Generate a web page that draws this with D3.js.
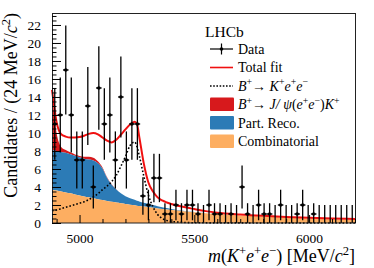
<!DOCTYPE html>
<html>
<head>
<meta charset="utf-8">
<script src="https://cdnjs.cloudflare.com/ajax/libs/d3/7.8.5/d3.min.js"></script>
<style>
    html, body { margin: 0; padding: 0; background: #fff; }
    .chart { width: 374px; height: 268px; }
    text { font-family: "Liberation Serif", "Times New Roman", serif; fill: #000; }
</style>
</head>
<body>
<div class="chart"></div>
<script>
// chart state lives here
let chart = {};

// histogram: bin centres (24 MeV bins, 4880-6200) and candidate counts
const binCentres = [4892, 4916, 4940, 4964, 4988, 5012, 5036, 5060, 5084, 5108,
    5132, 5156, 5180, 5204, 5228, 5252, 5276, 5300, 5324, 5348,
    5372, 5396, 5420, 5444, 5468, 5492, 5516, 5540, 5564, 5588,
    5612, 5636, 5660, 5684, 5708, 5732, 5756, 5780, 5804, 5828,
    5852, 5876, 5900, 5924, 5948, 5972, 5996, 6020, 6044, 6068,
    6092, 6116, 6140, 6164, 6188];
const counts = [11, 12, 17, 12, 7, 7, 13, 4, 15, 11,
    12, 7, 14, 7, 11, 11, 3, 2, 5, 5,
    1, 1, 2, 1, 2, 2, 1, 0, 2, 1,
    1, 0, 1, 0, 4, 1, 0, 2, 1, 1,
    0, 2, 0, 0, 1, 2, 0, 1, 0, 0,
    0, 0, 0, 0, 0];

// fit components, sampled at fitMass
const fitMass = [4880, 4890, 4900, 4910, 4920, 4940, 4960, 4980, 5000, 5020,
    5040, 5060, 5080, 5100, 5120, 5140, 5160, 5180, 5200, 5220,
    5240, 5250, 5260, 5280, 5300, 5320, 5340, 5360, 5380, 5400,
    5450, 5500, 5550, 5600, 5700, 5800, 5900, 6000, 6100, 6200];
const combinatorial = [3.7, 3.65, 3.6, 3.55, 3.5, 3.4, 3.3, 3.17, 3.05, 2.95,
    2.85, 2.75, 2.65, 2.55, 2.45, 2.36, 2.28, 2.2, 2.12, 2.04,
    1.97, 1.93, 1.9, 1.83, 1.76, 1.69, 1.62, 1.56, 1.5, 1.44,
    1.31, 1.19, 1.09, 1.0, 0.84, 0.71, 0.6, 0.51, 0.43, 0.37];
const partReco = [4.4, 4.4, 4.4, 4.4, 4.4, 4.4, 4.35, 4.3, 4.25, 4.2,
    4.2, 4.2, 4.0, 3.5, 2.55, 1.9, 1.45, 1.1, 0.85, 0.7,
    0.6, 0.55, 0.5, 0.42, 0.36, 0.3, 0.25, 0.2, 0.16, 0.12,
    0.06, 0.02, 0, 0, 0, 0, 0, 0, 0, 0];
const jpsiLeak = [6.3, 4.0, 2.0, 1.0, 0.55, 0.3, 0.2, 0.15, 0.15, 0.2,
    0.3, 0.3, 0.2, 0.12, 0.07, 0.04, 0.02, 0, 0, 0,
    0, 0, 0, 0, 0, 0, 0, 0, 0, 0,
    0, 0, 0, 0, 0, 0, 0, 0, 0, 0];
const signalKee = [1.35, 1.4, 1.45, 1.52, 1.6, 1.75, 1.9, 2.05, 2.2, 2.35,
    2.6, 2.9, 3.25, 3.7, 4.1, 4.6, 5.3, 6.3, 7.4, 8.6,
    9.0, 8.5, 7.5, 5.2, 3.1, 1.8, 0.95, 0.5, 0.28, 0.17,
    0.07, 0.03, 0.02, 0.01, 0.01, 0, 0, 0, 0, 0];
const totalFit = [14.8, 12.9, 11.2, 10.3, 9.85, 9.6, 9.5, 9.5, 9.55, 9.7,
    9.9, 10.0, 9.85, 9.5, 9.15, 8.95, 9.25, 9.8, 10.4, 10.95,
    11.25, 11.0, 9.6, 6.6, 4.5, 3.5, 2.85, 2.5, 2.28, 2.12,
    1.8, 1.55, 1.32, 1.15, 0.95, 0.8, 0.68, 0.58, 0.5, 0.44];

// axis ticks
const xTickValues = [5000, 5500, 6000];
const yTickValues = [0, 2, 4, 6, 8, 10, 12, 14, 16, 18, 20, 22];

const colors = {
    comb: "#fdae61",
    reco: "#2c7bb6",
    jpsi: "#d7191c",
    fit: "#f01010"
};


init();


function init() {
    appendElements();
    update();
}


function update() {
    setDimensions();
    setScales();
    updateElements();
}


function setDimensions() {
    chart.margin = {
        top: 13,
        right: 19,
        bottom: 45,
        left: 52
    };

    chart.width = 374 - chart.margin.left - chart.margin.right;
    chart.height = 268 - chart.margin.top - chart.margin.bottom;
}


function setScales() {
    chart.xScale = d3.scaleLinear()
        .range([0, chart.width])
        .domain([4880, 6200]);

    chart.yScale = d3.scaleLinear()
        .range([chart.height, 0])
        .domain([0, 23.33]);
}


// write text made of plain / italic / superscript pieces
function richText(sel, parts, size) {
    let raised = false;
    parts.forEach(p => {
        let ts = sel.append("tspan").text(p.t);
        if (p.it) ts.style("font-style", "italic");
        if (p.sup) {
            ts.attr("font-size", size * 0.7);
            if (!raised) ts.attr("dy", -size * 0.38);
            raised = true;
        } else if (raised) {
            ts.attr("dy", size * 0.38);
            raised = false;
        }
    });
}


function appendElements() {
    chart.svg = d3.select(".chart").append("svg");
    chart.plot = chart.svg.append("g").attr("class", "chart-g");

    chart.areas = chart.plot.append("g").attr("class", "areas");
    chart.curves = chart.plot.append("g").attr("class", "curves");
    chart.points = chart.plot.append("g").attr("class", "points");
    chart.frame = chart.plot.append("rect").attr("class", "frame");

    chart.xAxis = chart.plot.append("g").classed("axis x-axis", true);
    chart.xMinor = chart.plot.append("g").classed("axis x-minor", true);
    chart.yAxis = chart.plot.append("g").classed("axis y-axis", true);
    chart.yMinor = chart.plot.append("g").classed("axis y-minor", true);

    chart.legend = chart.svg.append("g").attr("class", "legend");
}


function updateElements() {
    let x = chart.xScale, y = chart.yScale;

    chart.svg.attr("width", 374).attr("height", 268);
    chart.plot.attr("transform", `translate(${chart.margin.left},${chart.margin.top})`);

    // stacked fit components
    let fitRows = fitMass.map((m, i) => ({
        m: m,
        c: combinatorial[i],
        r: combinatorial[i] + partReco[i],
        j: combinatorial[i] + partReco[i] + jpsiLeak[i],
        s: signalKee[i],
        t: totalFit[i]
    }));

    let area = (lo, hi) => d3.area()
        .x(d => x(d.m))
        .y0(d => y(lo(d)))
        .y1(d => y(hi(d)))
        .curve(d3.curveMonotoneX);

    chart.areas.append("path").datum(fitRows)
        .attr("fill", colors.jpsi)
        .attr("d", area(d => d.r, d => d.j));
    chart.areas.append("path").datum(fitRows)
        .attr("fill", colors.reco)
        .attr("d", area(d => d.c, d => d.r));
    chart.areas.append("path").datum(fitRows)
        .attr("fill", colors.comb)
        .attr("d", area(d => 0, d => d.c));

    let line = key => d3.line()
        .x(d => x(d.m))
        .y(d => y(d[key]))
        .curve(d3.curveMonotoneX);

    chart.curves.append("path").datum(fitRows)
        .attr("fill", "none")
        .attr("stroke", "#000")
        .attr("stroke-width", 1.6)
        .attr("stroke-dasharray", "1.6,2")
        .attr("d", line("s"));
    chart.curves.append("path").datum(fitRows)
        .attr("fill", "none")
        .attr("stroke", colors.fit)
        .attr("stroke-width", 2)
        .attr("d", line("t"));

    // data points with poisson-like error bars
    let half = (x(4904) - x(4880)) / 2;
    let pts = binCentres.map((m, i) => {
        let n = counts[i];
        let e = n > 0 ? 1.2 * Math.sqrt(n) : 0;
        return {m: m, n: n, lo: Math.max(0, n - e), hi: n > 0 ? n + e : 2.0};
    });

    let g = chart.points.selectAll("g.pt").data(pts).join("g").attr("class", "pt");
    g.append("line")
        .attr("x1", d => x(d.m)).attr("x2", d => x(d.m))
        .attr("y1", d => y(d.lo)).attr("y2", d => y(d.hi))
        .attr("stroke", "#000").attr("stroke-width", 1.3);
    g.filter(d => d.n > 0).append("line")
        .attr("x1", d => x(d.m) - half).attr("x2", d => x(d.m) + half)
        .attr("y1", d => y(d.n)).attr("y2", d => y(d.n))
        .attr("stroke", "#000").attr("stroke-width", 1.4);
    g.filter(d => d.n > 0).append("circle")
        .attr("cx", d => x(d.m)).attr("cy", d => y(d.n))
        .attr("r", 1.8).attr("fill", "#000");

    // frame
    chart.frame
        .attr("x", 0.5).attr("y", 0.5)
        .attr("width", chart.width).attr("height", chart.height - 0.5)
        .attr("fill", "none").attr("stroke", "#222").attr("stroke-width", 1);

    // axes: ticks point inwards
    chart.xAxis.attr("transform", `translate(0,${chart.height})`)
        .call(d3.axisBottom(x).tickValues(xTickValues).tickFormat(d3.format("d"))
            .tickSize(-8).tickSizeOuter(0).tickPadding(10));
    chart.xMinor.attr("transform", `translate(0,${chart.height})`)
        .call(d3.axisBottom(x)
            .tickValues(d3.range(4900, 6201, 100).filter(v => v % 500 !== 0))
            .tickSize(-4).tickSizeOuter(0).tickFormat(""));

    chart.yAxis
        .call(d3.axisLeft(y).tickValues(yTickValues).tickFormat(d3.format("d"))
            .tickSize(-9).tickSizeOuter(0).tickPadding(11));
    chart.yMinor
        .call(d3.axisLeft(y)
            .tickValues(d3.range(0, 23.3, 0.5).filter(v => v % 2 !== 0))
            .tickSize(-4.5).tickSizeOuter(0).tickFormat(""));

    chart.plot.selectAll(".axis .domain").remove();
    chart.plot.selectAll(".axis line").attr("stroke", "#000");
    chart.plot.selectAll(".axis text")
        .attr("font-size", 13.5)
        .attr("font-family", "Liberation Serif, serif")
        .attr("fill", "#000");

    // axis titles
    let xt = chart.svg.append("text")
        .attr("x", chart.margin.left + chart.width)
        .attr("y", 262)
        .attr("text-anchor", "end")
        .attr("font-size", 18);
    richText(xt, [{t: "m", it: true}, {t: "("}, {t: "K", it: true}, {t: "+", sup: true},
        {t: "e", it: true}, {t: "+", sup: true}, {t: "e", it: true}, {t: "\u2212", sup: true},
        {t: ") [MeV/"}, {t: "c", it: true}, {t: "2", sup: true}, {t: "]"}], 18);

    let yt = chart.svg.append("text")
        .attr("transform", `translate(17,${chart.margin.top}) rotate(-90)`)
        .attr("text-anchor", "end")
        .attr("font-size", 18);
    richText(yt, [{t: "Candidates / (24 MeV/"}, {t: "c", it: true}, {t: "2", sup: true}, {t: ")"}], 18);

    // legend
    let lx = 210, lw = 23, tx = 238, rowY = [49, 67.5, 86, 104.3, 122.7, 141.2];

    chart.legend.append("text")
        .attr("x", 205).attr("y", 36.5)
        .attr("font-size", 15.5)
        .text("LHCb");

    let lg = chart.legend;
    // data symbol
    lg.append("line").attr("x1", lx).attr("x2", lx + lw).attr("y1", rowY[0]).attr("y2", rowY[0])
        .attr("stroke", "#000").attr("stroke-width", 1.2);
    lg.append("line").attr("x1", lx + lw / 2).attr("x2", lx + lw / 2).attr("y1", rowY[0] - 5.5).attr("y2", rowY[0] + 5.5)
        .attr("stroke", "#000").attr("stroke-width", 1.2);
    lg.append("circle").attr("cx", lx + lw / 2).attr("cy", rowY[0]).attr("r", 1.8).attr("fill", "#000");
    // total fit
    lg.append("line").attr("x1", lx).attr("x2", lx + lw).attr("y1", rowY[1]).attr("y2", rowY[1])
        .attr("stroke", colors.fit).attr("stroke-width", 1.6);
    // signal
    lg.append("line").attr("x1", lx).attr("x2", lx + lw).attr("y1", rowY[2]).attr("y2", rowY[2])
        .attr("stroke", "#000").attr("stroke-width", 1.5).attr("stroke-dasharray", "1.6,1.6");
    // boxes
    [colors.jpsi, colors.reco, colors.comb].forEach((c, i) => {
        lg.append("rect").attr("x", lx).attr("y", rowY[3 + i] - 6.8)
            .attr("width", lw + 1).attr("height", 13.6).attr("rx", 1)
            .attr("fill", c);
    });

    let labels = [
        [{t: "Data"}],
        [{t: "Total fit"}],
        [{t: "B", it: true}, {t: "+", sup: true}, {t: "\u2192 "}, {t: "K", it: true}, {t: "+", sup: true},
            {t: "e", it: true}, {t: "+", sup: true}, {t: "e", it: true}, {t: "\u2212", sup: true}],
        [{t: "B", it: true}, {t: "+", sup: true}, {t: "\u2192 "}, {t: "J/ \u03c8", it: true}, {t: "("},
            {t: "e", it: true}, {t: "+", sup: true}, {t: "e", it: true}, {t: "\u2212", sup: true},
            {t: ")"}, {t: "K", it: true}, {t: "+", sup: true}],
        [{t: "Part. Reco."}],
        [{t: "Combinatorial"}]
    ];
    labels.forEach((parts, i) => {
        let t = lg.append("text").attr("x", tx).attr("y", rowY[i] + 4.8).attr("font-size", 14);
        richText(t, parts, 14);
    });
}
</script>
</body>
</html>
